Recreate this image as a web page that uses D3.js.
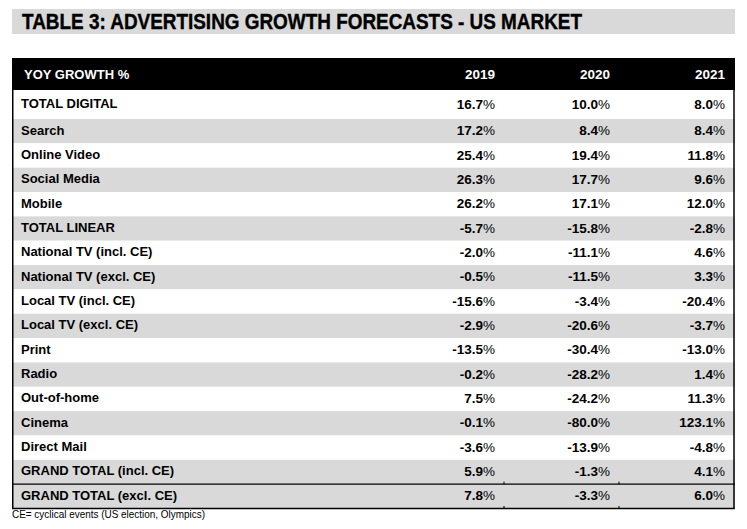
<!DOCTYPE html>
<html>
<head>
<meta charset="utf-8">
<script src="https://cdn.jsdelivr.net/npm/d3@7"></script>
<style>
  html, body { margin: 0; padding: 0; background: #fff; }
  svg { display: block; }
</style>
</head>
<body>
<div id="chart"></div>
<script>
const title = "TABLE 3: ADVERTISING GROWTH FORECASTS - US MARKET";
const headerLabel = "YOY GROWTH %";
const years = ["2019", "2020", "2021"];
const categories = [
  "TOTAL DIGITAL", "Search", "Online Video", "Social Media", "Mobile",
  "TOTAL LINEAR", "National TV (incl. CE)", "National TV (excl. CE)",
  "Local TV (incl. CE)", "Local TV (excl. CE)", "Print", "Radio",
  "Out-of-home", "Cinema", "Direct Mail", "GRAND TOTAL (incl. CE)", "GRAND TOTAL (excl. CE)"
];
const values2019 = [16.7, 17.2, 25.4, 26.3, 26.2, -5.7, -2.0, -0.5, -15.6, -2.9, -13.5, -0.2, 7.5, -0.1, -3.6, 5.9, 7.8];
const values2020 = [10.0, 8.4, 19.4, 17.7, 17.1, -15.8, -11.1, -11.5, -3.4, -20.6, -30.4, -28.2, -24.2, -80.0, -13.9, -1.3, -3.3];
const values2021 = [8.0, 8.4, 11.8, 9.6, 12.0, -2.8, 4.6, 3.3, -20.4, -3.7, -13.0, 1.4, 11.3, 123.1, -4.8, 4.1, 6.0];
const shaded = [false, true, false, true, false, true, false, true, false, true, false, true, false, true, false, true, true];
const footnote = "CE= cyclical events (US election, Olympics)";

const W = 747, H = 529;
const GRAY = "#d9d9d9";
const svg = d3.select("#chart").append("svg").attr("width", W).attr("height", H);

const left = 12, right = 735;
const locale = d3.formatLocale({ decimal: ".", thousands: ",", grouping: [3], currency: ["$", ""], minus: "-" });
const fmt = locale.format(".1f");
const seriesByYear = [values2019, values2020, values2021];

// Title band
svg.append("rect").attr("x", left).attr("y", 9).attr("width", right - left).attr("height", 25).attr("fill", GRAY);
svg.append("text").attr("x", 22).attr("y", 28.5)
  .attr("font-family", "'Liberation Sans Narrow', 'Liberation Sans', Arial, sans-serif")
  .attr("font-weight", "bold").attr("font-size", 22.5).attr("fill", "#000")
  .attr("stroke", "#000").attr("stroke-width", 0.4)
  .attr("textLength", 560).attr("lengthAdjust", "spacingAndGlyphs")
  .text(title);

// Header
const headTop = 58, headBottom = 90;
svg.append("rect").attr("x", left).attr("y", headTop).attr("width", right - left).attr("height", headBottom - headTop).attr("fill", "#000");

const colX = d3.scaleOrdinal().domain(years).range([495, 610, 725]);
const fontFam = "'Liberation Sans', Arial, Helvetica, sans-serif";

svg.append("text").attr("x", 24).attr("y", 78.5)
  .attr("font-family", fontFam).attr("font-weight", "bold").attr("font-size", 13).attr("fill", "#fff")
  .text(headerLabel);
svg.selectAll("text.year").data(years).join("text").attr("class", "year")
  .attr("x", d => colX(d)).attr("y", 78.5).attr("text-anchor", "end")
  .attr("font-family", fontFam).attr("font-weight", "bold").attr("font-size", 13.5).attr("fill", "#fff")
  .text(d => d);

// Rows: first row taller, remaining via band scale
const firstRowBottom = 119;
const yBand = d3.scaleBand().domain(d3.range(1, categories.length)).range([firstRowBottom, 508.5]).padding(0);
const rowTop = i => i === 0 ? headBottom : yBand(i);
const rowH = i => i === 0 ? firstRowBottom - headBottom : yBand.bandwidth();
const rowMid = i => rowTop(i) + rowH(i) / 2;

const rows = categories.map((c, i) => ({ c, i, vals: seriesByYear.map(s => s[i]) }));

svg.selectAll("rect.row").data(rows).join("rect").attr("class", "row")
  .attr("x", left).attr("y", d => rowTop(d.i)).attr("width", right - left).attr("height", d => rowH(d.i))
  .attr("fill", d => shaded[d.i] ? GRAY : "#fff");

svg.selectAll("text.label").data(rows).join("text").attr("class", "label")
  .attr("x", 21).attr("y", d => rowMid(d.i) + 3.5)
  .attr("font-family", fontFam).attr("font-weight", "bold").attr("font-size", 13).attr("fill", "#000")
  .text(d => d.c);

years.forEach((yr, k) => {
  const t = svg.selectAll("text.v" + yr).data(rows).join("text").attr("class", "v" + yr)
    .attr("x", colX(yr)).attr("y", d => rowMid(d.i) + 4).attr("text-anchor", "end")
    .attr("font-family", fontFam).attr("font-size", 13.5).attr("fill", "#000");
  t.append("tspan").attr("font-weight", "bold").text(d => fmt(d.vals[k]));
  t.append("tspan").attr("font-weight", "normal").text("%");
});

// Borders
const bottom = rowTop(categories.length - 1) + rowH(categories.length - 1);
const gtTop = rowTop(categories.length - 1);
svg.append("line").attr("x1", left + 0.75).attr("x2", left + 0.75).attr("y1", headBottom).attr("y2", bottom)
  .attr("stroke", "#000").attr("stroke-width", 1.5);
svg.append("line").attr("x1", right - 1).attr("x2", right - 1).attr("y1", headBottom).attr("y2", bottom)
  .attr("stroke", "#000").attr("stroke-width", 1.5);
[gtTop, bottom].forEach(y => {
  svg.append("line").attr("x1", left).attr("x2", right - 0.25).attr("y1", y).attr("y2", y)
    .attr("stroke", "#000").attr("stroke-width", 1.3);
  [504, 619].forEach(x => {
    svg.append("line").attr("x1", x).attr("x2", x).attr("y1", y - 2.5).attr("y2", y)
      .attr("stroke", "#000").attr("stroke-width", 1);
  });
});

// Footnote
svg.append("text").attr("x", 12).attr("y", 517.5)
  .attr("font-family", "'Liberation Sans Narrow', 'Liberation Sans', Arial, sans-serif")
  .attr("font-size", 11).attr("fill", "#000")
  .attr("textLength", 193).attr("lengthAdjust", "spacingAndGlyphs")
  .text(footnote);
</script>
</body>
</html>
